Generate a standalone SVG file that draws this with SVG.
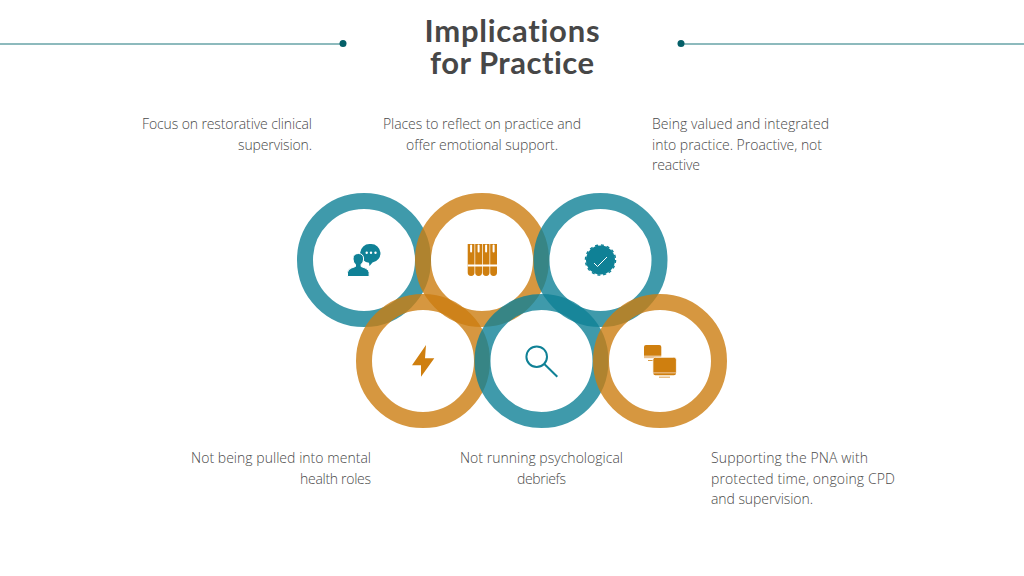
<svg xmlns="http://www.w3.org/2000/svg" width="1024" height="576" viewBox="0 0 1024 576">
<style>
.t{font-family:"Open Sans","Liberation Sans",sans-serif;font-weight:300;font-size:14px;fill:#4a4a4a}
.h{font-family:"Lato","Liberation Sans",sans-serif;font-weight:700;font-size:31px;fill:#474747;text-anchor:middle;font-variant-ligatures:none}
.ring{fill:none;stroke-width:16;stroke-opacity:.8}
.tl{stroke:#0f8196}.or{stroke:#cc7d10}
.fi-t{fill:#0f8196}.fi-o{fill:#cf7f0f}
.r{text-anchor:end}.m{text-anchor:middle}
</style>
<rect width="1024" height="576" fill="#fff"/>
<g id="connectors">
<line x1="0" y1="44" x2="343" y2="44" stroke="#8dbabd" stroke-width="2"/>
<circle cx="343" cy="43.500" r="3.500" fill="#045f68"/>
<line x1="681" y1="44" x2="1024" y2="44" stroke="#8dbabd" stroke-width="2"/>
<circle cx="681" cy="43.500" r="3.500" fill="#045f68"/>
</g>
<g id="title"><text class="h" x="512" y="42" textLength="175" lengthAdjust="spacing">Implications</text><text class="h" x="512" y="74" textLength="164" lengthAdjust="spacing">for Practice</text></g>
<g id="rings">
<circle class="ring tl" cx="364" cy="260" r="59"/>
<circle class="ring or" cx="482" cy="260" r="59"/>
<circle class="ring tl" cx="600.500" cy="260" r="59"/>
<circle class="ring or" cx="423" cy="361" r="59"/>
<circle class="ring tl" cx="541.500" cy="361" r="59"/>
<circle class="ring or" cx="660" cy="361" r="59"/>
</g>
<g id="node-supervision">
<text class="t r" x="312" y="129" textLength="170">Focus on restorative clinical</text><text class="t r" x="312" y="149.500" textLength="74">supervision.</text>
<path class="fi-t" d="M371 244a9.300 9.300 0 0 1 1.500 18.500l-3 3.500-.5-3.300a9.300 9.300 0 0 1 1-18.700z"/>
<path class="fi-t" stroke="#fff" stroke-width="1" d="M347.500 276.500v-4q0-3 4-4.500l4-1.500v-2q-2.500-2-2.500-5.500 0-5.500 5.300-5.500t5.300 5.500q0 3.500-2.500 5.500v2l4 1.500q4 1.500 4 4.500v4z"/>
<g fill="#fff"><circle cx="366.700" cy="252.700" r="1.200"/><circle cx="371" cy="252.700" r="1.200"/><circle cx="375.500" cy="252.700" r="1.200"/></g>
</g>
<g id="node-reflect">
<text class="t m" x="482" y="129" textLength="198">Places to reflect on practice and</text><text class="t m" x="482" y="149.500" textLength="152">offer emotional support.</text>
<path class="fi-o" d="M467.700 244h6.800v28.500a3.400 3.400 0 0 1-6.800 0zM475.200 244h6.800v28.500a3.400 3.400 0 0 1-6.800 0zM482.700 244h6.800v28.500a3.400 3.400 0 0 1-6.800 0zM490.200 244h6.800v28.500a3.400 3.400 0 0 1-6.800 0z"/>
<g fill="#fff"><rect x="467.700" y="264.500" width="29.300" height="2"/><rect x="470.100" y="244.500" width="2" height="8" rx="1"/><rect x="477.600" y="244.500" width="2" height="8" rx="1"/><rect x="485.100" y="244.500" width="2" height="8" rx="1"/><rect x="492.600" y="244.500" width="2" height="8" rx="1"/></g>
</g>
<g id="node-valued">
<text class="t" x="652" y="129" textLength="177">Being valued and integrated</text><text class="t" x="652" y="149.500" textLength="170">into practice. Proactive, not</text><text class="t" x="652" y="169.500" textLength="48">reactive</text>
<circle class="fi-t" cx="600.500" cy="260" r="14.500"/>
<circle cx="600.500" cy="260" r="15" fill="none" stroke="#0f8196" stroke-width="1.500" stroke-dasharray="3 2.890"/>
<path d="M594 263l3.500 3.500 9.500-9.500" fill="none" stroke="#fff" stroke-width="1"/>
</g>
<g id="node-roles">
<text class="t r" x="371" y="463" textLength="180">Not being pulled into mental</text><text class="t r" x="371" y="483.500" textLength="71">health roles</text>
<path class="fi-o" d="M426 345L412 365.300h9v11.400L434.300 358.300H425z"/>
</g>
<g id="node-debriefs">
<text class="t m" x="541.500" y="463" textLength="163">Not running psychological</text><text class="t m" x="541.500" y="483.500" textLength="49">debriefs</text>
<circle cx="536.700" cy="356.700" r="10.300" fill="none" stroke="#0f8196" stroke-width="2"/>
<line x1="544.300" y1="364" x2="557.300" y2="376.700" stroke="#0f8196" stroke-width="2"/>
</g>
<g id="node-pna">
<text class="t" x="711" y="463" textLength="157">Supporting the PNA with</text><text class="t" x="711" y="483.500" textLength="184">protected time, ongoing CPD</text><text class="t" x="711" y="503.500" textLength="102">and supervision.</text>
<path class="fi-o" d="M646 345h13.300a2 2 0 0 1 2 2v8.700h-17.300v-8.700a2 2 0 0 1 2-2z"/>
<path fill="#e8c190" d="M644 356h17.300v2.200h-17.300z"/>
<path fill="#cf7f0f" d="M648 360h5v.8h-5z"/>
<path class="fi-o" stroke="#fff" stroke-width=".8" d="M655.800 357.300h17.700a2.500 2.500 0 0 1 2.900 2.900v12.500h-23.500v-12.500a2.500 2.500 0 0 1 2.900-2.900z"/>
<path fill="#e0a45c" d="M653.300 372.200h22.700v1h-22.700z"/>
<path class="fi-o" d="M653.300 373.200h22.700a2 2 0 0 1-2 2h-18.700a2 2 0 0 1-2-2zM659 376.700h11v.8h-11z"/>
</g>
</svg>
